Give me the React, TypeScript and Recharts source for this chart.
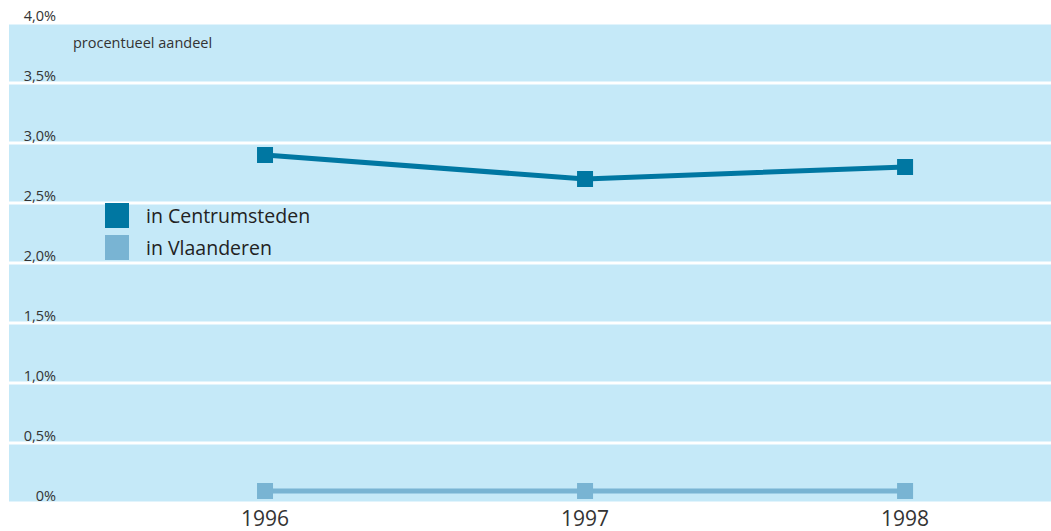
import { LineChart, Line, XAxis, YAxis, CartesianGrid } from 'recharts'

const years = [1996, 1997, 1998]
const centrumsteden = [2.9, 2.7, 2.8]
const vlaanderen = [0.1, 0.1, 0.1]
const yTicks = [0, 0.5, 1, 1.5, 2, 2.5, 3, 3.5, 4]
const yTickLabels = ['0%', '0,5%', '1,0%', '1,5%', '2,0%', '2,5%', '3,0%', '3,5%', '4,0%']

const DARK = '#0077a2'
const LIGHT = '#79b4d3'
const FONT = '"Open Sans", "Noto Sans", sans-serif'

const series = [
  { key: 'centrum', name: 'in Centrumsteden', color: DARK },
  { key: 'vlaanderen', name: 'in Vlaanderen', color: LIGHT },
]

const data = years.map((year, i) => ({
  year,
  centrum: centrumsteden[i],
  vlaanderen: vlaanderen[i],
}))

const squareDot = (color: string) => (props: any) => {
  const { cx, cy, index } = props
  if (cx == null || cy == null) return null
  return <rect key={index} x={cx - 8} y={cy - 8} width={16} height={16} fill={color} />
}

const YTick = (props: any) => {
  const { y, payload } = props
  const label = yTickLabels[yTicks.indexOf(payload.value)] ?? ''
  return (
    <text x={56} y={y - 2} textAnchor="end" fontSize={14.5} fill="#333" fontFamily={FONT}>
      {label}
    </text>
  )
}

export default function App() {
  return (
    <div style={{ position: 'relative', width: 1051, height: 531 }}>
      <style>{'body{margin:0}'}</style>
      <LineChart width={1051} height={531} data={data} margin={{ top: 23, right: 0, bottom: 0, left: 8 }}>
        <CartesianGrid fill="#c5e9f8" stroke="#ffffff" strokeWidth={3} strokeOpacity={1} vertical={false} />
        <XAxis
          dataKey="year"
          type="number"
          domain={[1995.2, 1998.456]}
          ticks={years}
          axisLine={false}
          tickLine={false}
          height={28}
          tick={{ fontSize: 21, fill: '#333', fontFamily: FONT }}
        />
        <YAxis
          domain={[0, 4]}
          ticks={yTicks}
          width={1}
          axisLine={false}
          tickLine={false}
          interval={0}
          tick={<YTick />}
        />
        {series.map((s) => (
          <Line
            key={s.key}
            type="linear"
            dataKey={s.key}
            name={s.name}
            stroke={s.color}
            strokeWidth={5}
            dot={squareDot(s.color)}
            activeDot={false}
            isAnimationActive={false}
          />
        ))}
      </LineChart>
      <div style={{ position: 'absolute', left: 105, top: 199, fontFamily: FONT, fontSize: 19.5, color: '#222' }}>
        {series.map((s) => (
          <div key={s.key} style={{ display: 'flex', alignItems: 'center', height: 32 }}>
            <span style={{ width: 24, height: 25, background: s.color, display: 'inline-block', marginRight: 17 }} />
            <span>{s.name}</span>
          </div>
        ))}
      </div>
      <div style={{ position: 'absolute', left: 73, top: 33, fontFamily: FONT, fontSize: 14.5, color: '#333' }}>
        procentueel aandeel
      </div>
    </div>
  )
}
